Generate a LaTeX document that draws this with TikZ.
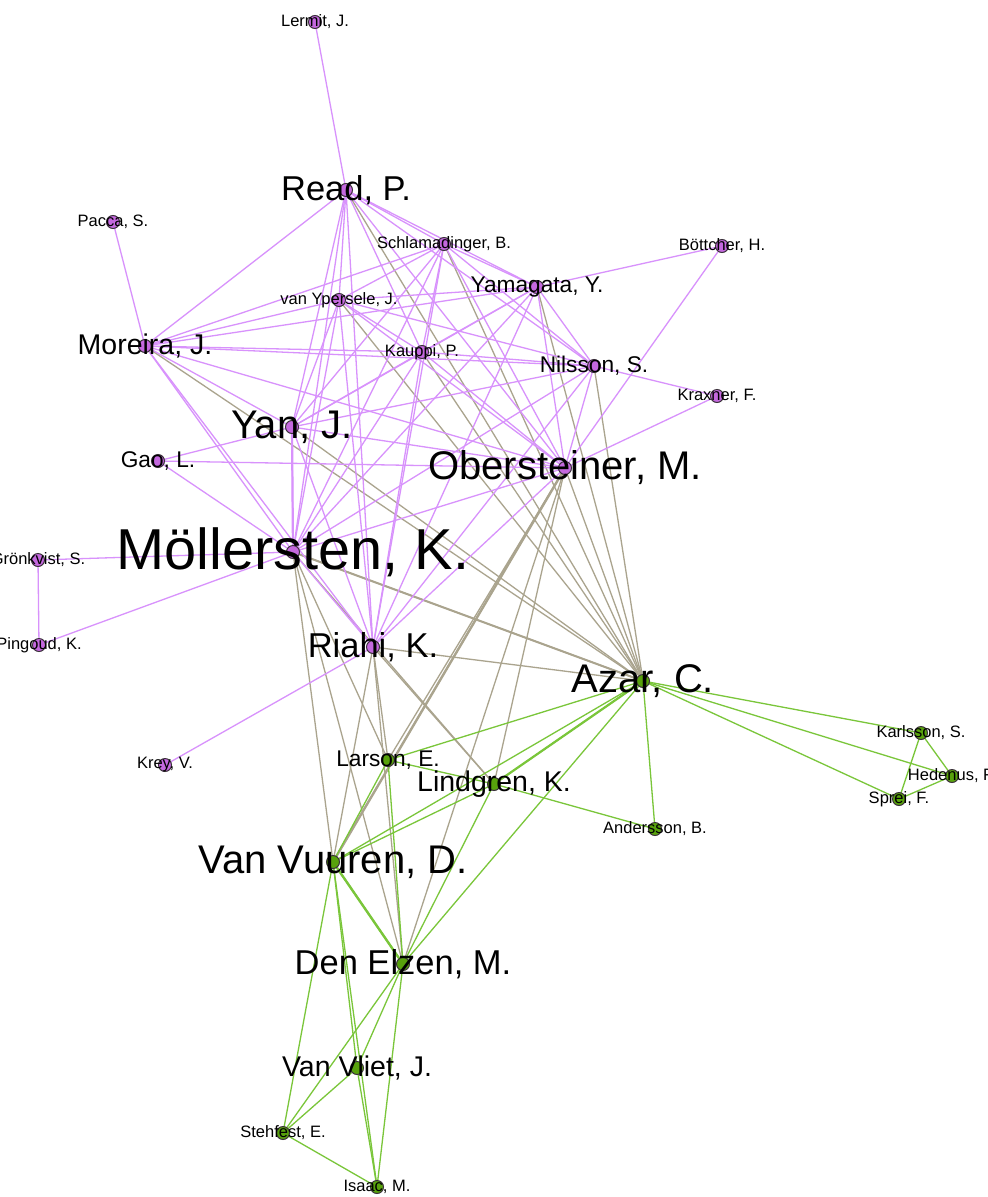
\documentclass[tikz,border=0pt]{standalone}
\usepackage{fontspec}
\setmainfont{Liberation Sans}
\pgfdeclarelayer{edges}
\pgfsetlayers{edges,main}
\definecolor{pedge}{RGB}{216,146,252}
\definecolor{gedge}{RGB}{122,198,58}
\definecolor{xedge}{RGB}{170,164,142}
\definecolor{pfill}{RGB}{196,104,222}
\definecolor{gfill}{RGB}{88,162,12}
\definecolor{nborder}{RGB}{60,50,60}
\begin{document}
\begin{tikzpicture}[x=1pt,y=-1pt,
  pn/.style={circle,draw=nborder,fill=pfill,line width=1pt,minimum size=13pt,inner sep=0pt},
  gn/.style={circle,draw=nborder,fill=gfill,line width=1pt,minimum size=13pt,inner sep=0pt},
  lab/.style={inner sep=0pt,text=black},
  la/.style={lab,font=\fontsize{16.5}{16.5}\selectfont},
  lb/.style={lab,font=\fontsize{22.7}{22.7}\selectfont},
  lc/.style={lab,font=\fontsize{28.5}{28.5}\selectfont},
  ld/.style={lab,font=\fontsize{34.5}{34.5}\selectfont},
  le/.style={lab,font=\fontsize{40}{40}\selectfont},
  lf/.style={lab,font=\fontsize{57.7}{57.7}\selectfont},
  pe/.style={draw=pedge,line width=1.3pt},
  ge/.style={draw=gedge,line width=1.3pt},
  xe/.style={draw=xedge,line width=1.3pt}]
\useasboundingbox (0,0) rectangle (988,1197);
\clip (0,0) rectangle (988,1197);
% nodes
\node[pn] (ler) at (315,22) {};
\node[pn] (rea) at (346,190) {};
\node[pn] (pac) at (113,222) {};
\node[pn] (sch) at (444,244) {};
\node[pn] (bot) at (722,246) {};
\node[pn] (yam) at (537,287) {};
\node[pn] (ypr) at (339,300) {};
\node[pn] (mor) at (145,346) {};
\node[pn] (kau) at (422,352) {};
\node[pn] (nil) at (594,366) {};
\node[pn] (kra) at (717,396) {};
\node[pn] (yan) at (292,427) {};
\node[pn] (gao) at (158,461) {};
\node[pn] (obe) at (565,468) {};
\node[pn] (mol) at (293,552) {};
\node[pn] (gro) at (38,560) {};
\node[pn] (pin) at (39,645) {};
\node[pn] (kre) at (165,765) {};
\node[pn] (ria) at (373,647) {};
\node[gn] (aza) at (643,681) {};
\node[gn] (kar) at (921,733) {};
\node[gn] (hed) at (952,776) {};
\node[gn] (spr) at (899,799) {};
\node[gn] (lar) at (388,760) {};
\node[gn] (lin) at (494,784) {};
\node[gn] (ands) at (655,829) {};
\node[gn] (vvu) at (333,862) {};
\node[gn] (den) at (403,964) {};
\node[gn] (vvl) at (357,1068) {};
\node[gn] (ste) at (283,1133) {};
\node[gn] (isa) at (377,1187) {};
% edges
\begin{pgfonlayer}{edges}
\fill[white] (0,0) rectangle (988,1197);
% mixed edges
\foreach \a in {rea,sch,yam,ypr,mor,kau,nil,yan,obe,mol,ria}
  \draw[xe] (\a.center) -- (aza.center);
\foreach \a in {obe,ria,mol}
  \foreach \b in {lin,vvu,den,lar}
    \draw[xe] (\a.center) -- (\b.center);
\draw[xe,line width=2.4pt] (obe.center) -- (vvu.center);
\draw[xe,line width=2pt] (mol.center) -- (aza.center);
% purple clique
\foreach \a [count=\i] in {rea,sch,yam,ypr,mor,kau,nil,yan,obe,mol,ria}
  \foreach \b [count=\j] in {rea,sch,yam,ypr,mor,kau,nil,yan,obe,mol,ria}
    {\ifnum\j>\i \draw[pe] (\a.center) -- (\b.center); \fi}
\foreach \a/\b in {gao/yan,gao/obe,gao/mol,gro/pin,gro/mol,pin/mol,kra/nil,kra/obe,
  bot/yam,bot/obe,ler/rea,pac/mor,kre/ria}
  \draw[pe] (\a.center) -- (\b.center);
\draw[pe,line width=2.2pt] (mol.center) -- (yan.center);
% green
\foreach \a [count=\i] in {aza,lin,vvu,den,lar}
  \foreach \b [count=\j] in {aza,lin,vvu,den,lar}
    {\ifnum\j>\i \draw[ge] (\a.center) -- (\b.center); \fi}
\foreach \a [count=\i] in {vvu,den,vvl,ste,isa}
  \foreach \b [count=\j] in {vvu,den,vvl,ste,isa}
    {\ifnum\j>\i \draw[ge] (\a.center) -- (\b.center); \fi}
\foreach \a/\b in {ands/aza,ands/lin,kar/aza,hed/aza,spr/aza,kar/hed,kar/spr,hed/spr}
  \draw[ge] (\a.center) -- (\b.center);
\draw[ge,line width=2.4pt] (vvu.center) -- (den.center);
\draw[ge,line width=2.2pt] (aza.center) -- (lin.center);
\end{pgfonlayer}
% labels
\node[la] (ler-t) at (ler) {Lermit, J.};
\node[ld] (rea-t) at (rea) {Read, P.};
\node[la] (pac-t) at (pac) {Pacca, S.};
\node[la] (sch-t) at (sch) {Schlamadinger, B.};
\node[la] (bot-t) at (bot) {Böttcher, H.};
\node[lb] (yam-t) at (yam) {Yamagata, Y.};
\node[la] (ypr-t) at (ypr) {van Ypersele, J.};
\node[lc] (mor-t) at (mor) {Moreira, J.};
\node[la] (kau-t) at (kau) {Kauppi, P.};
\node[lb] (nil-t) at (nil) {Nilsson, S.};
\node[la] (kra-t) at (kra) {Kraxner, F.};
\node[le] (yan-t) at (yan) {Yan, J.};
\node[lb] (gao-t) at (gao) {Gao, L.};
\node[le] (obe-t) at (obe) {Obersteiner, M.};
\node[lf] (mol-t) at (mol) {Möllersten, K.};
\node[la] (gro-t) at (gro) {Grönkvist, S.};
\node[la] (pin-t) at (pin) {Pingoud, K.};
\node[la] (kre-t) at (kre) {Krey, V.};
\node[ld] (ria-t) at (ria) {Riahi, K.};
\node[le] (aza-t) at (aza) {Azar, C.};
\node[la] (kar-t) at (kar) {Karlsson, S.};
\node[la] (hed-t) at (hed) {Hedenus, F.};
\node[la] (spr-t) at (spr) {Sprei, F.};
\node[lb] (lar-t) at (lar) {Larson, E.};
\node[lc] (lin-t) at (lin) {Lindgren, K.};
\node[la] (ands-t) at (ands) {Andersson, B.};
\node[le] (vvu-t) at (vvu) {Van Vuuren, D.};
\node[ld] (den-t) at (den) {Den Elzen, M.};
\node[lc] (vvl-t) at (vvl) {Van Vliet, J.};
\node[la] (ste-t) at (ste) {Stehfest, E.};
\node[la] (isa-t) at (isa) {Isaac, M.};
\end{tikzpicture}
\end{document}
